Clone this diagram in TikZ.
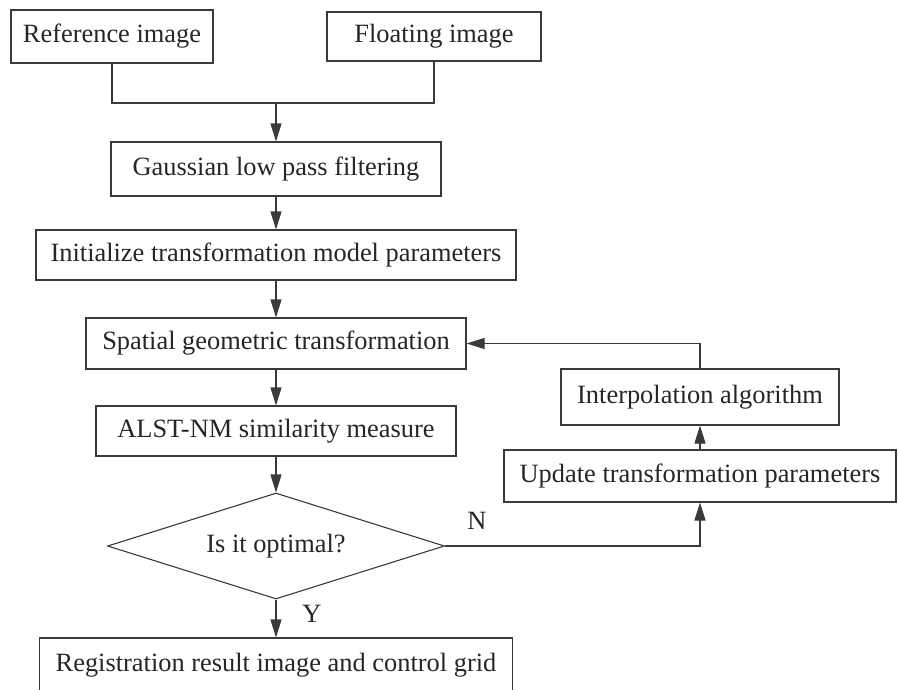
\documentclass[tikz,border=0pt]{standalone}
\usepackage{fontspec}
\setmainfont{Liberation Serif}
\usetikzlibrary{shapes.geometric,arrows.meta}
\definecolor{ink}{HTML}{262626}
\definecolor{edge}{HTML}{3A3A3A}
\begin{document}
\begin{tikzpicture}[x=1pt,y=-1pt,
  every node/.style={text=ink,font=\fontsize{26.4}{30}\selectfont},
  stepbox/.style={draw=edge,line width=1.1pt,rectangle,inner sep=0pt},
  decision/.style={draw=edge,line width=1.1pt,diamond,aspect=3.18,inner sep=0pt},
  conn/.style={draw=edge,line width=1.1pt},
  flow/.style={conn,-{Triangle[length=18pt,width=11pt]}}]
\useasboundingbox (0,0) rectangle (898,689);
\begin{scope}
\clip (0,0) rectangle (898,689);
% input images
\node[stepbox,minimum width=202pt,minimum height=53pt] (ref) at (112,36.5) {Reference image};
\node[stepbox,minimum width=214pt,minimum height=49pt] (flo) at (434,36.5) {Floating image};
% main column
\node[stepbox,minimum width=330pt,minimum height=54pt] (gauss) at (276,169) {Gaussian low pass filtering};
\node[stepbox,minimum width=480pt,minimum height=50pt] (init) at (276,255) {Initialize transformation model parameters};
\node[stepbox,minimum width=380pt,minimum height=51pt] (spat) at (276,343.5) {Spatial geometric transformation};
\node[stepbox,minimum width=360pt,minimum height=50pt] (alst) at (276,431) {ALST-NM similarity measure};
\node[decision,minimum width=337pt,minimum height=106pt] (dec) at (276,546) {Is it optimal?};
\node[stepbox,minimum width=473pt,minimum height=54pt] (reg) at (276,665) {Registration result image and control grid};
% feedback loop
\node[stepbox,minimum width=278pt,minimum height=56pt] (interp) at (700,397) {Interpolation algorithm};
\node[stepbox,minimum width=392pt,minimum height=52pt] (upd) at (700,476) {Update transformation parameters};
% connectors
\coordinate (mj) at (276,103);
\draw[conn] (ref.south) |- (mj) -| (flo.south);
\draw[flow] (mj) -- (gauss.north);
\draw[flow] (gauss.south) -- (init.north);
\draw[flow] (init.south) -- (spat.north);
\draw[flow] (spat.south) -- (alst.north);
\draw[flow] (alst.south) -- (dec.north);
\draw[flow] (dec.south) -- (reg.north);
\draw[flow] (dec.east) -| (upd.south);
\draw[flow] (upd.north) -- (interp.south);
\draw[flow] (interp.north) |- (spat.east);
% branch labels
\node (ylab) at (312,614) {Y};
\node (nlab) at (477,521) {N};
\end{scope}
\end{tikzpicture}
\end{document}
